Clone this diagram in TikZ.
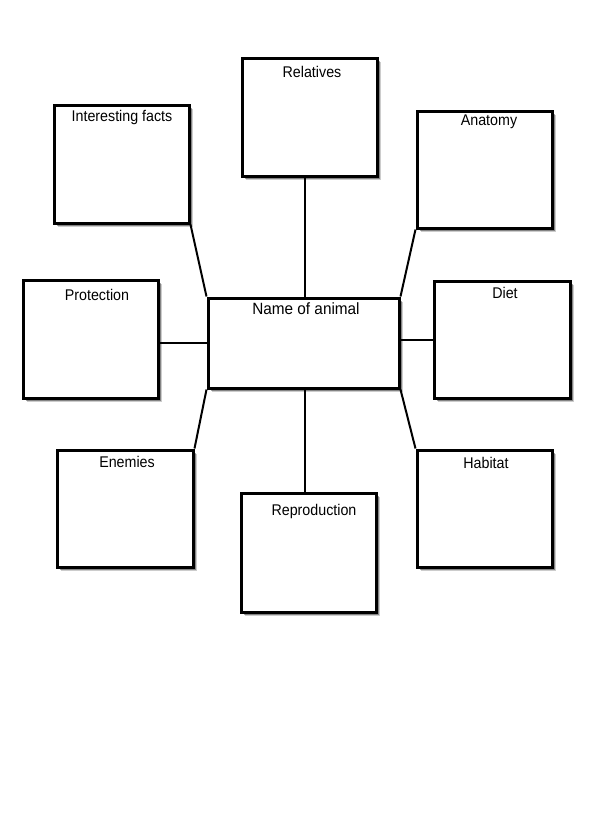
\documentclass[tikz,border=0pt]{standalone}
\usepackage{fontspec}
\usepackage{graphicx}
\setmainfont{Liberation Sans}
\usetikzlibrary{shadows,backgrounds}
\newcommand{\narrowtxt}[2]{\scalebox{#1}[1]{#2}}
\begin{document}
\begin{tikzpicture}[x=1pt,y=-1pt,
  topicbox/.style={draw=black, line width=3pt, fill=white, inner sep=0pt,
    minimum width=135pt, minimum height=118pt,
    general shadow={shadow xshift=3.5pt, shadow yshift=-3.5pt, fill=black, opacity=0.2},
    general shadow={shadow xshift=2.5pt, shadow yshift=-2.5pt, fill=black, opacity=0.35}},
  topictext/.style={inner sep=0pt, font=\fontsize{15.5}{18}\selectfont},
  link/.style={draw=black, line width=2pt}]
\useasboundingbox (0,0) rectangle (590,828);
% boxes
\node[topicbox] (rel) at (309.5,117) {};
\node[topicbox] (ifacts) at (121.5,164) {};
\node[topicbox, minimum height=117pt] (anat) at (484.5,169.5) {};
\node[topicbox] (prot) at (90.5,339) {};
\node[topicbox, minimum width=136pt, minimum height=117pt] (diet) at (502,339.5) {};
\node[topicbox, minimum width=136pt, minimum height=117pt] (enem) at (125,508.5) {};
\node[topicbox, minimum height=119pt] (repr) at (308.5,552.5) {};
\node[topicbox, minimum height=117pt] (hab) at (484.5,508.5) {};
\node[topicbox, minimum width=191pt, minimum height=90pt] (ctr) at (303.5,343) {};
% texts
\node[topictext] (trel) at (312,72) {\narrowtxt{0.92}{Relatives}};
\node[topictext] (tifacts) at (122,117) {\narrowtxt{0.92}{Interesting facts}};
\node[topictext] (tanat) at (489,122) {\narrowtxt{0.92}{Anatomy}};
\node[topictext] (tprot) at (97,295) {\narrowtxt{0.92}{Protection}};
\node[topictext] (tdiet) at (505,293) {\narrowtxt{0.92}{Diet}};
\node[topictext] (tenem) at (127,462) {\narrowtxt{0.92}{Enemies}};
\node[topictext] (trepr) at (314,511) {\narrowtxt{0.92}{Reproduction}};
\node[topictext] (thab) at (486,463) {\narrowtxt{0.92}{Habitat}};
\node[topictext, font=\fontsize{16.3}{19}\selectfont] (tctr) at (306,309) {\narrowtxt{0.94}{Name of animal}};
% background and connectors
\begin{scope}[on background layer]
\fill[white] (0,0) rectangle (590,828);
\draw[link] ([xshift=-4.5pt]rel.south) -- ([xshift=1.5pt]ctr.north);
\draw[link] (ifacts.south east) -- (ctr.north west);
\draw[link] (anat.south west) -- (ctr.north east);
\draw[link] (prot.east |- ctr.west) -- (ctr.west);
\draw[link] (diet.west) -- (diet.west -| ctr.east);
\draw[link] (enem.north east) -- (ctr.south west);
\draw[link] (hab.north west) -- (ctr.south east);
\draw[link] ([xshift=-3.5pt]repr.north) -- ([xshift=1.5pt]ctr.south);
\end{scope}
\end{tikzpicture}
\end{document}
